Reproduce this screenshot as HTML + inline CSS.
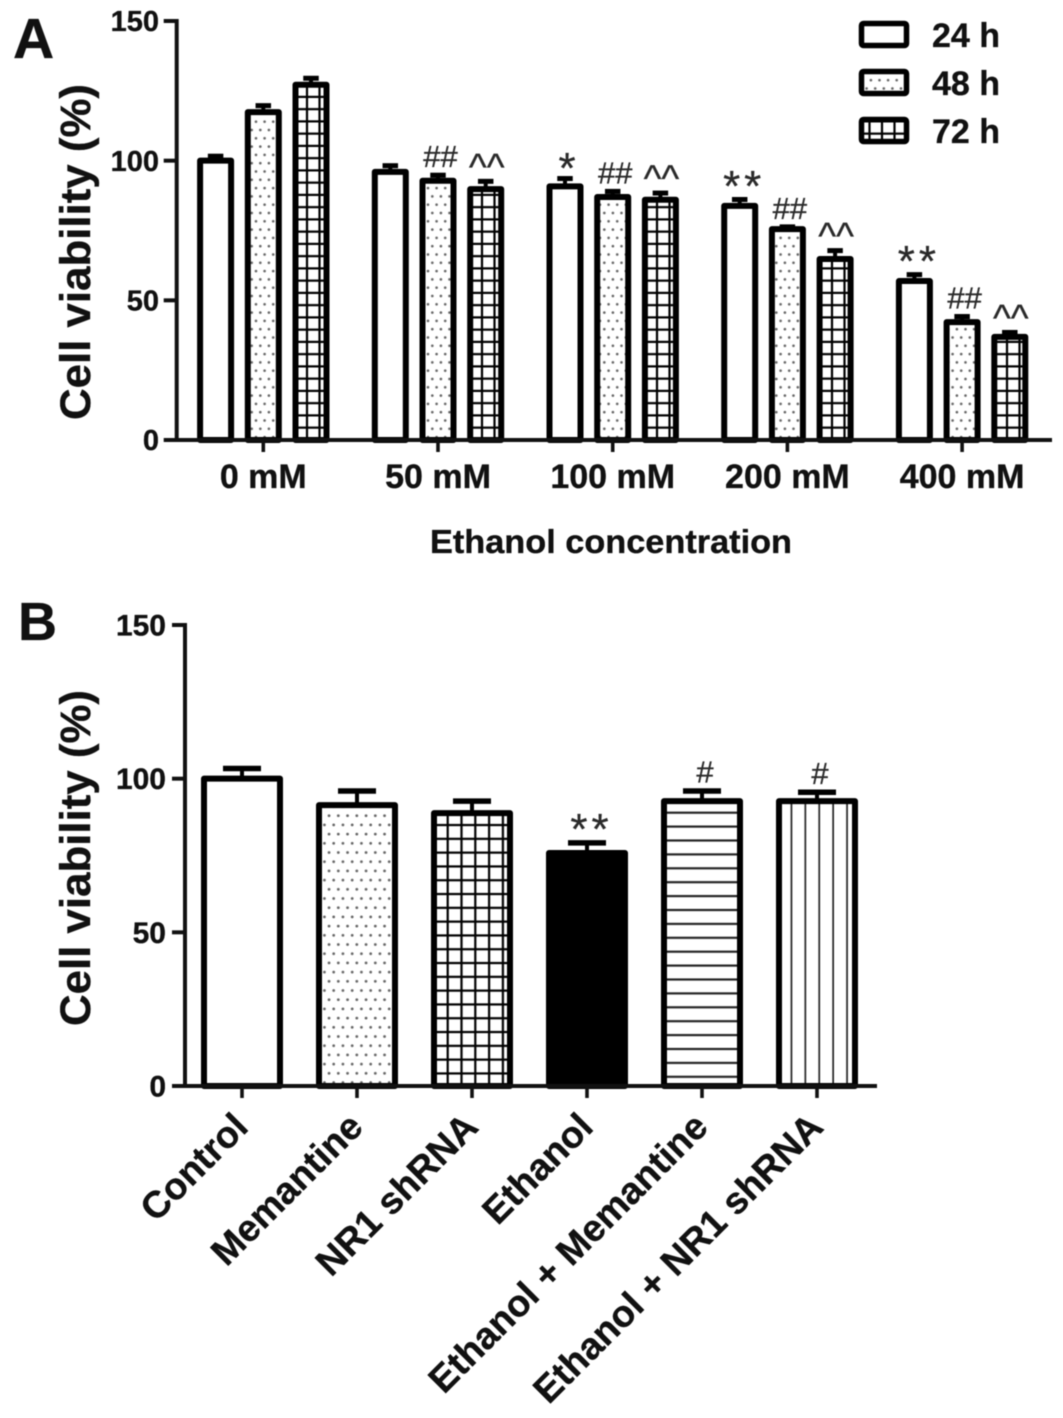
<!DOCTYPE html>
<html lang="en">
<head>
<meta charset="utf-8">
<title>Cell viability charts</title>
<style>
html,body{margin:0;padding:0;background:#fff;}
body{width:1063px;height:1418px;overflow:hidden;}
svg{display:block;filter:blur(0.55px);}
text{font-family:"Liberation Sans",sans-serif;fill:#111;}
.b{font-weight:700;stroke:#111;stroke-width:0.35px;}
.m{fill:#2a2a2a;stroke:#2a2a2a;stroke-width:0.3px;}
</style>
</head>
<body>
<svg id="figure" xmlns="http://www.w3.org/2000/svg" width="1063" height="1418" viewBox="0 0 1063 1418">
  <defs>
    <pattern id="dotsA" patternUnits="userSpaceOnUse" width="8.6" height="16.6">
      <circle cx="6.6" cy="5.5" r="1.3" fill="#666"/><circle cx="2.3" cy="13.8" r="1.3" fill="#666"/>
    </pattern>
    <pattern id="gridA" patternUnits="userSpaceOnUse" width="12.5" height="12.25">
      <path d="M0 11.2H12.5M7 0V12.25" stroke="#000" stroke-width="2.2" fill="none"/>
    </pattern>
    <pattern id="dotsB" patternUnits="userSpaceOnUse" width="9.25" height="18.4">
      <circle cx="5.3" cy="6.1" r="1.4" fill="#666"/><circle cx="0.67" cy="15.3" r="1.4" fill="#666"/>
      <circle cx="9.92" cy="15.3" r="1.4" fill="#666"/>
    </pattern>
    <pattern id="gridB" patternUnits="userSpaceOnUse" width="13.8" height="13.8">
      <path d="M0 10.8H13.8M6.1 0V13.8" stroke="#000" stroke-width="2.2" fill="none"/>
    </pattern>
    <pattern id="hlinesB" patternUnits="userSpaceOnUse" width="14" height="13.9">
      <path d="M0 6.5H14" stroke="#222" stroke-width="2.2" fill="none"/>
    </pattern>
    <pattern id="vlinesB" patternUnits="userSpaceOnUse" width="13.9" height="14">
      <path d="M13.3 0V14" stroke="#222" stroke-width="2.2" fill="none"/>
    </pattern>
  </defs>

  <text class="b" x="13" y="58" font-size="57">A</text>
  <text class="b" x="18" y="640" font-size="54">B</text>

  <text class="b" transform="translate(90 252) rotate(-90)" text-anchor="middle" font-size="43" textLength="336" lengthAdjust="spacingAndGlyphs">Cell viability (%)</text>
  <text class="b" transform="translate(90 858) rotate(-90)" text-anchor="middle" font-size="43" textLength="336" lengthAdjust="spacingAndGlyphs">Cell viability (%)</text>
  <text class="b" x="611" y="553" text-anchor="middle" font-size="33.5" textLength="362" lengthAdjust="spacingAndGlyphs">Ethanol concentration</text>

  <g>
    <rect x="861.5" y="23.5" width="45" height="22" rx="2" fill="#fff" stroke="#000" stroke-width="5.5" stroke-linejoin="round"/>
    <rect x="861.5" y="71.5" width="45" height="22" rx="2" fill="url(#dotsA)" stroke="#000" stroke-width="5.5" stroke-linejoin="round"/>
    <rect x="861.5" y="119.5" width="45" height="22" rx="2" fill="url(#gridA)" stroke="#000" stroke-width="5.5" stroke-linejoin="round"/>
    <text class="b" x="932" y="47" font-size="34">24 h</text>
    <text class="b" x="932" y="95" font-size="34">48 h</text>
    <text class="b" x="932" y="143" font-size="34">72 h</text>
  </g>

  <g id="panelA"></g>
  <g id="panelB"></g>
</svg>

<script>
// Panel A data
const concentrations = ['0 mM', '50 mM', '100 mM', '200 mM', '400 mM'];
const hours = ['24h', '48h', '72h'];
const viability24h = [100, 96, 90.8, 83.8, 56.9];
const viability48h = [117.4, 92.8, 87, 75.5, 42.2];
const viability72h = [127.2, 89.8, 86, 64.8, 36.9];
const error24h = [1.6, 2.2, 2.8, 2.3, 2.3];
const error48h = [2.3, 2, 2, 0.8, 2];
const error72h = [2.3, 2.8, 2.4, 3, 1.6];
const marks24h = ['', '', '*', '**', '**'];
const marks48h = ['', '##', '##', '##', '##'];
const marks72h = ['', '^^', '^^', '^^', '^^'];
const yTicksA = [0, 50, 100, 150];

// Panel B data
const treatments = ['Control', 'Memantine', 'NR1 shRNA', 'Ethanol', 'Ethanol + Memantine', 'Ethanol + NR1 shRNA'];
const viabilityB = [100, 91.4, 88.8, 75.8, 92.7, 92.7];
const errorB = [3.3, 4.6, 3.9, 3.3, 3.3, 2.9];
const marksB = ['', '', '', '**', '#', '#'];
const yTicksB = [0, 50, 100, 150];

const NS = 'http://www.w3.org/2000/svg';
function mk(tag, attrs, parent) {
  const node = document.createElementNS(NS, tag);
  for (const k in attrs) node.setAttribute(k, attrs[k]);
  parent.appendChild(node);
  return node;
}

// Axis functions
const yA = v => 440 - v * (419 / 150);
const groupA = g => 263.3 + g * 174.7;
const xA = (g, s) => groupA(g) + (s - 1) * 47.7;
const yB = v => 1086 - v * (461 / 150);
const xB = i => 242 + i * 115;

// Annotation glyph metrics (size, baseline relative to the error cap top edge, horizontal nudge)
function markStyle(label, capTop) {
  if (label[0] === '#') return {size: 31, y: capTop - 5.5, dx: label.length > 1 ? 2.5 : 3, spacing: 0};
  if (label[0] === '^') return {size: 38, y: capTop + 1, dx: 1, spacing: 0};
  return label.length > 1
    ? {size: 44, y: capTop + 4, dx: 4.5, spacing: 4}
    : {size: 44, y: capTop + 7, dx: 2, spacing: 0};
}

function drawMark(parent, cx, capTop, label, name) {
  const st = markStyle(label, capTop);
  const mark = mk('text', {x: cx + st.dx, y: st.y, 'text-anchor': 'middle', 'font-size': st.size, 'letter-spacing': st.spacing, class: 'm'}, parent);
  mark.textContent = label;
  
  
}

function drawBar(parent, cx, yTop, yBase, yErr, barW, capW, capH, stroke, fill, name) {
  const stem = mk('line', {x1: cx, x2: cx, y1: yTop, y2: yErr, stroke: '#000', 'stroke-width': 4}, parent);
  
  
  const cap = mk('line', {x1: cx - capW / 2, x2: cx + capW / 2, y1: yErr, y2: yErr, stroke: '#000', 'stroke-width': capH}, parent);
  
  
  const bar = mk('rect', {x: cx - barW / 2, y: yTop, width: barW, height: yBase - yTop, fill: fill, stroke: '#000', 'stroke-width': stroke, 'stroke-linejoin': 'round'}, parent);
  
  
}

function drawYAxis(parent, x, yFn, ticks, prefix, labelRight, fs) {
  const axis = mk('line', {x1: x, x2: x, y1: yFn(ticks[ticks.length - 1]) - 2, y2: yFn(0) + 2, stroke: '#111', 'stroke-width': 4}, parent);
  
  
  ticks.forEach(t => {
    const tick = mk('line', {x1: x - 13, x2: x, y1: yFn(t), y2: yFn(t), stroke: '#111', 'stroke-width': 4}, parent);
    
    
    const label = mk('text', {x: labelRight, y: yFn(t) + fs * 0.35, 'text-anchor': 'end', 'font-size': fs, class: 'b'}, parent);
    label.textContent = String(t);
    
    
  });
}

// Panel A
const panelA = document.getElementById('panelA');
const seriesA = [viability24h, viability48h, viability72h];
const errorsA = [error24h, error48h, error72h];
const marksA = [marks24h, marks48h, marks72h];
const fillsA = ['#fff', 'url(#dotsA)', 'url(#gridA)'];
drawYAxis(panelA, 176.7, yA, yTicksA, 'panel-a', 159, 29);
seriesA.forEach((values, s) => {
  values.forEach((v, g) => {
    const top = yA(v + errorsA[s][g]);
    drawBar(panelA, xA(g, s), yA(v), yA(0), top, 31, 15.5, 5, 6, fillsA[s], 'bar-' + hours[s] + '-' + g);
    const label = marksA[s][g];
    if (label) {
      drawMark(panelA, xA(g, s), top - 2.5, label, 'significance-' + hours[s] + '-' + g);
    }
  });
});
const baseA = mk('line', {x1: 165, x2: 1052, y1: yA(0), y2: yA(0), stroke: '#111', 'stroke-width': 4}, panelA);


concentrations.forEach((c, g) => {
  const tick = mk('line', {x1: groupA(g), x2: groupA(g), y1: yA(0), y2: yA(0) + 12, stroke: '#111', 'stroke-width': 3.6}, panelA);
  
  
  const label = mk('text', {x: groupA(g), y: 488, 'text-anchor': 'middle', 'font-size': 34, class: 'b'}, panelA);
  label.textContent = c;
  
  
});

// Panel B
const panelB = document.getElementById('panelB');
const fillsB = ['#fff', 'url(#dotsB)', 'url(#gridB)', '#000', 'url(#hlinesB)', 'url(#vlinesB)'];
drawYAxis(panelB, 185, yB, yTicksB, 'panel-b', 166, 30);
viabilityB.forEach((v, i) => {
  const top = yB(v + errorB[i]);
  drawBar(panelB, xB(i), yB(v), yB(0), top, 76, 38, 5.5, 6, fillsB[i], 'bar-' + i);
  if (marksB[i]) {
    drawMark(panelB, xB(i), top - 2.75, marksB[i], 'significance-b-' + i);
  }
});
const baseB = mk('line', {x1: 172, x2: 877, y1: yB(0), y2: yB(0), stroke: '#111', 'stroke-width': 4}, panelB);


treatments.forEach((t, i) => {
  const tick = mk('line', {x1: xB(i), x2: xB(i), y1: yB(0), y2: yB(0) + 12, stroke: '#111', 'stroke-width': 3.6}, panelB);
  
  
  const lx = xB(i) + 8;
  const ly = 1129;
  const label = mk('text', {x: lx, y: ly, 'text-anchor': 'end', 'font-size': 37.5, class: 'b', transform: 'rotate(-45 ' + lx + ' ' + ly + ')'}, panelB);
  label.textContent = t;
  
  
});
</script>
</body>
</html>
